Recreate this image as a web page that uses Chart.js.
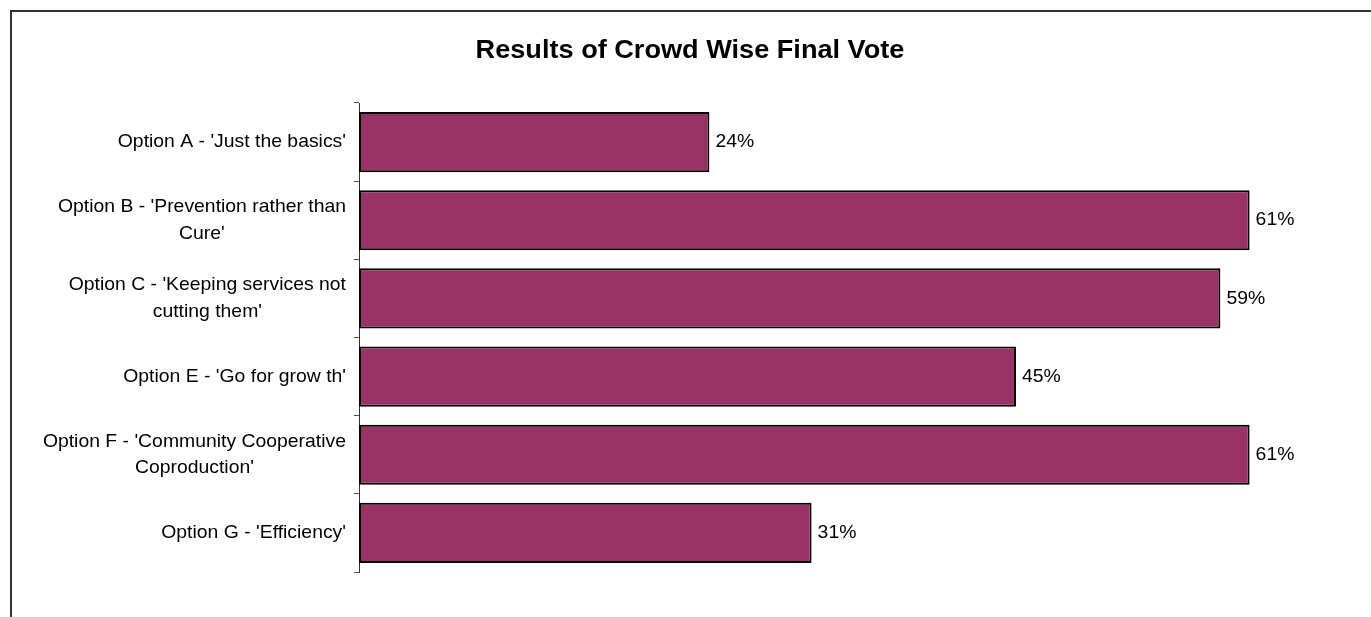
<!DOCTYPE html>
<html>
<head>
<meta charset="utf-8">
<script src="https://cdn.jsdelivr.net/npm/chart.js@4/dist/chart.umd.min.js"></script>
<style>
  html, body { margin: 0; padding: 0; background: #fff; }
  #wrap { position: relative; width: 1371px; height: 617px; overflow: hidden; }
  #frame { position: absolute; left: 10px; top: 10px; width: 2000px; height: 2000px;
           border-left: 2px solid #333; border-top: 2px solid #333; pointer-events: none; }
</style>
</head>
<body>
<div id="wrap">
  <canvas id="myChart" width="1371" height="617"></canvas>
  <div id="frame"></div>
</div>
<script>
var title = 'Results of Crowd Wise Final Vote';
var labels = [
  ["Option A - 'Just the basics'"],
  ["Option B - 'Prevention rather than", "Cure'"],
  ["Option C - 'Keeping services not", "cutting them'"],
  ["Option E - 'Go for grow th'"],
  ["Option F - 'Community Cooperative", "Coproduction'"],
  ["Option G - 'Efficiency'"]
];
var votes = [24, 61, 59, 45, 61, 31];

var fontFamily = '"Liberation Sans", Arial, sans-serif';

function wideText(ctx, txt, x, y, stretch) {
  ctx.save();
  ctx.translate(x, y);
  ctx.scale(stretch, 1);
  ctx.fillText(txt, 0, 0);
  ctx.restore();
}

// title, wrapped category labels (lines centred on each other) and the % values
var textPlugin = {
  id: 'textPlugin',
  afterDraw: function(chart) {
    var ctx = chart.ctx;
    var yScale = chart.scales.y;
    ctx.save();
    ctx.fillStyle = '#000';

    ctx.font = 'bold 25px ' + fontFamily;
    ctx.textAlign = 'center';
    ctx.textBaseline = 'alphabetic';
    wideText(ctx, title, 690, 58, 1.085);

    var s = 1.02;
    ctx.font = '19px ' + fontFamily;
    ctx.textBaseline = 'middle';
    var right = yScale.right - 13;
    var lineH = 26.5;
    labels.forEach(function(lines, i) {
      var w = 0;
      lines.forEach(function(l) { w = Math.max(w, ctx.measureText(l).width * s); });
      var cx = right - w / 2;
      var cy = yScale.getPixelForTick(i);
      var y0 = cy - (lines.length - 1) * lineH / 2;
      lines.forEach(function(l, j) { wideText(ctx, l, cx, y0 + j * lineH, s); });
    });

    ctx.textAlign = 'left';
    chart.getDatasetMeta(0).data.forEach(function(bar, i) {
      wideText(ctx, votes[i] + '%', bar.x + 6, bar.y, s);
    });
    ctx.restore();
  }
};

var ctx = document.getElementById('myChart').getContext('2d');
var barChart = new Chart(ctx, {
  type: 'bar',
  data: {
    labels: labels,
    datasets: [{
      data: votes,
      backgroundColor: '#993366',
      borderColor: '#000',
      borderWidth: 2,
      borderSkipped: false,
      barPercentage: 0.77,
      categoryPercentage: 1
    }]
  },
  options: {
    indexAxis: 'y',
    responsive: false,
    animation: false,
    layout: { padding: { top: 103, right: 63, bottom: 45, left: 0 } },
    plugins: {
      legend: { display: false },
      tooltip: { enabled: false },
      title: { display: false }
    },
    scales: {
      x: { display: false, min: 0, max: 65 },
      y: {
        offset: true,
        afterFit: function(scale) { scale.width = 359; },
        ticks: { color: 'transparent', font: { size: 15 } },
        grid: { drawOnChartArea: false, offset: true, tickLength: 5, color: '#555', lineWidth: 1 },
        border: { display: true, color: '#333', width: 1 }
      }
    }
  },
  plugins: [textPlugin]
});
</script>
</body>
</html>
